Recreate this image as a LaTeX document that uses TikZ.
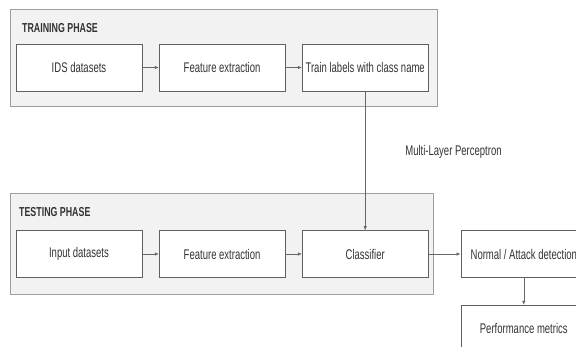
\documentclass[tikz,border=0pt]{standalone}
\usepackage{fontspec}
\setmainfont{Liberation Sans}[FakeStretch=0.68]
\usetikzlibrary{positioning,arrows.meta}

\begin{document}
\begin{tikzpicture}[x=1pt, y=-1pt,
  phasebox/.style={rectangle, draw=gray!75, fill=gray!10, line width=0.8pt, minimum width=427pt, anchor=north west},
  phasetitle/.style={font=\fontsize{13}{15}\selectfont\bfseries, text=black!80, anchor=west, inner sep=0pt},
  stepnode/.style={rectangle, draw=gray!75!black, fill=white, line width=0.6pt, minimum width=126pt, minimum height=47pt, text=black!80, font=\fontsize{14}{16}\selectfont, inner sep=0pt},
  flow/.style={draw=gray!80!black, line width=0.6pt, -{Latex[length=4pt,width=3.5pt]}},
  node distance=16.5pt]
    \useasboundingbox (0,0) rectangle (576,346);
    % Phases
    \node[phasebox, minimum height=97pt] (train) at (10,9) {};
    \node[phasebox, minimum height=101pt, minimum width=423pt] (test) at (10,193) {};
    \node[phasetitle] (traintitle) at (22,28) {TRAINING PHASE};
    \node[phasetitle] (testtitle) at (19,212) {TESTING PHASE};
    % Training steps
    \node[stepnode] (ids) at (79,67.5) {IDS datasets};
    \node[stepnode] (featA) [right=of ids] {Feature extraction};
    \node[stepnode] (labels) [right=of featA] {Train labels with class name};
    % Testing steps
    \node[stepnode] (input) at (79,254) {Input datasets};
    \node[stepnode] (featB) [right=of input] {Feature extraction};
    \node[stepnode] (classifier) [right=of featB] {Classifier};
    \node[stepnode] (detect) [right=32pt of classifier] {Normal / Attack detection};
    \node[stepnode] (perf) [below=27pt of detect] {Performance metrics};
    \node[text=black!80, font=\fontsize{14}{16}\selectfont] (mlp) at (453.5,152) {Multi-Layer Perceptron};
    % Lines
    \draw[flow] (ids) -- (featA);
    \draw[flow] (featA) -- (labels);
    \draw[flow] (input) -- (featB);
    \draw[flow] (featB) -- (classifier);
    \draw[flow] (labels) -- (classifier);
    \draw[flow] (classifier) -- (detect);
    \draw[flow] (detect) -- (perf);
\end{tikzpicture}
\end{document}
